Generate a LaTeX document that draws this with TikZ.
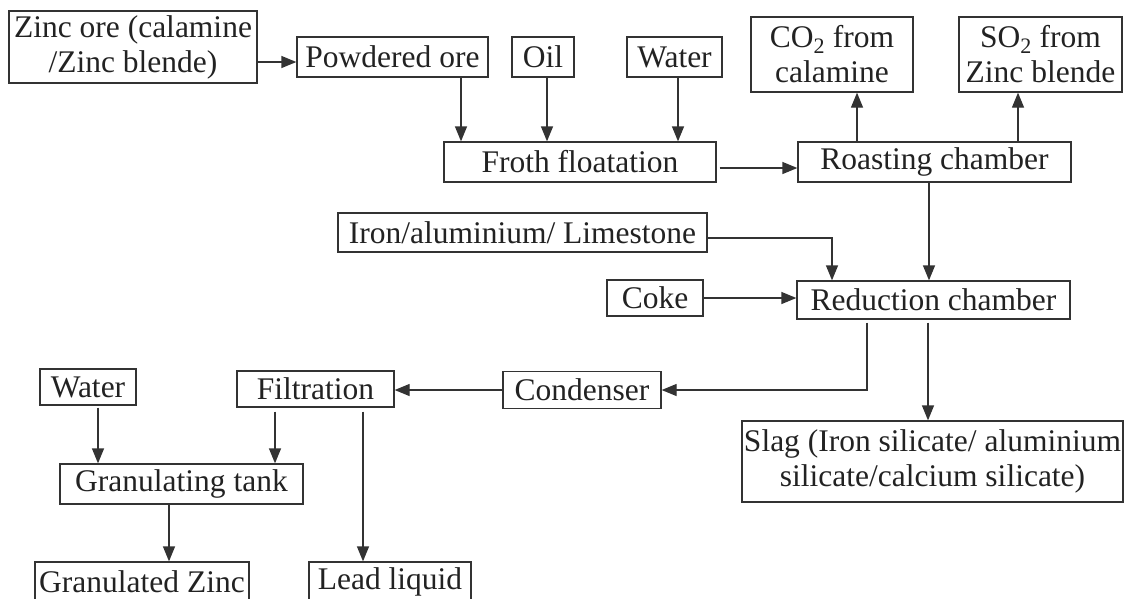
\documentclass[tikz,border=0pt]{standalone}
\usepackage{fontspec}
\setmainfont{Liberation Serif}
\usetikzlibrary{arrows.meta}
\definecolor{ink}{HTML}{222222}
\definecolor{edge}{HTML}{333333}
\tikzset{
  box/.style={draw=edge, line width=1.3pt, inner sep=0pt, align=center, text=ink,
    font=\fontsize{31.5}{35}\selectfont},
  arr/.style={draw=edge, line width=1.3pt, -{Triangle[length=15pt,width=12pt]}},
  ln/.style={draw=edge, line width=1.3pt}
}
\begin{document}
\begin{tikzpicture}[x=1pt,y=-1pt]
\useasboundingbox (0,0) rectangle (1124,598);
\clip (0,0) rectangle (1124,598);
\node[box, minimum width=248pt, minimum height=72pt] (zinc) at (133,47) {Zinc ore (calamine\\/Zinc blende)};
\node[box, minimum width=191pt, minimum height=40pt] (pw) at (392.5,57) {Powdered ore};
\node[box, minimum width=62pt, minimum height=40pt] (oil) at (543,57) {Oil};
\node[box, minimum width=95pt, minimum height=40pt] (wa) at (674.5,57) {Water};
\node[box, minimum width=272pt, minimum height=40pt] (froth) at (580,162) {Froth floatation};
\node[box, minimum width=273pt, minimum height=40pt] (roast) at (934.5,162) {Roasting chamber};
\node[box, minimum width=162pt, minimum height=75pt] (co2) at (832,54.5) {CO\textsubscript{2} from\\calamine};
\node[box, minimum width=163pt, minimum height=75pt] (so2) at (1040.5,54.5) {SO\textsubscript{2} from\\Zinc blende};
\node[box, minimum width=369pt, minimum height=39pt] (iron) at (522.5,232.5) {Iron/aluminium/ Limestone};
\node[box, minimum width=96pt, minimum height=36pt] (coke) at (655,298) {Coke};
\node[box, minimum width=273pt, minimum height=38pt] (red) at (933.5,300) {Reduction chamber};
\node[box, minimum width=158pt, minimum height=37pt] (cond) at (582,390) {Condenser};
\node[box, minimum width=157pt, minimum height=36pt] (filt) at (315.5,389) {Filtration};
\node[box, minimum width=96pt, minimum height=36pt] (wb) at (88,387) {Water};
\node[box, minimum width=243pt, minimum height=40pt] (gran) at (181.5,484) {Granulating tank};
\node[box, minimum width=214pt, minimum height=40pt] (gz) at (142,582) {Granulated Zinc};
\node[box, minimum width=162pt, minimum height=40pt] (lead) at (390,582) {Lead liquid};
\node[box, minimum width=381pt, minimum height=81pt] (slag) at (932.5,461.5) {Slag (Iron silicate/ aluminium\\silicate/calcium silicate)};
% connectors
\draw[arr] ([yshift=-5pt]pw.west -| zinc.east) -- ([yshift=-5pt]pw.west);
\draw[arr] ([xshift=68.5pt]pw.south) -- ([xshift=68.5pt]pw.south |- froth.north);
\draw[arr] ([xshift=4pt]oil.south) -- ([xshift=4pt]oil.south |- froth.north);
\draw[arr] ([xshift=3.5pt]wa.south) -- ([xshift=3.5pt]wa.south |- froth.north);
\draw[arr, shorten <=3pt] ([yshift=-6pt]froth.east) -- ([yshift=-6pt]froth.east -| roast.west);
\draw[arr] ([xshift=-77.5pt]roast.north) -- ([xshift=-77.5pt]roast.north |- co2.south);
\draw[arr] ([xshift=83.5pt]roast.north) -- ([xshift=83.5pt]roast.north |- so2.south);
\draw[arr] ([xshift=-5.5pt]roast.south) -- ([xshift=-5.5pt]roast.south |- red.north);
\draw[arr] ([yshift=-5.5pt]iron.east) -| ([xshift=-101.5pt]red.north);
\draw[arr] (coke.east) -- (coke.east -| red.west);
\draw[arr, shorten <=3pt] ([xshift=-66.5pt]red.south) |- (cond.east);
\draw[arr, shorten <=3pt] ([xshift=-5.5pt]red.south) -- ([xshift=-5.5pt]red.south |- slag.north);
\draw[arr] (cond.west) -- (cond.west -| filt.east);
\draw[arr, shorten <=2pt] ([xshift=10pt]wb.south) -- ([xshift=10pt]wb.south |- gran.north);
\draw[arr, shorten <=4pt] ([xshift=-40.5pt]filt.south) -- ([xshift=-40.5pt]filt.south |- gran.north);
\draw[arr, shorten <=4pt] ([xshift=47.5pt]filt.south) -- ([xshift=47.5pt]filt.south |- lead.north);
\draw[arr] ([xshift=-12.5pt]gran.south) -- ([xshift=-12.5pt]gran.south |- gz.north);
\end{tikzpicture}
\end{document}
